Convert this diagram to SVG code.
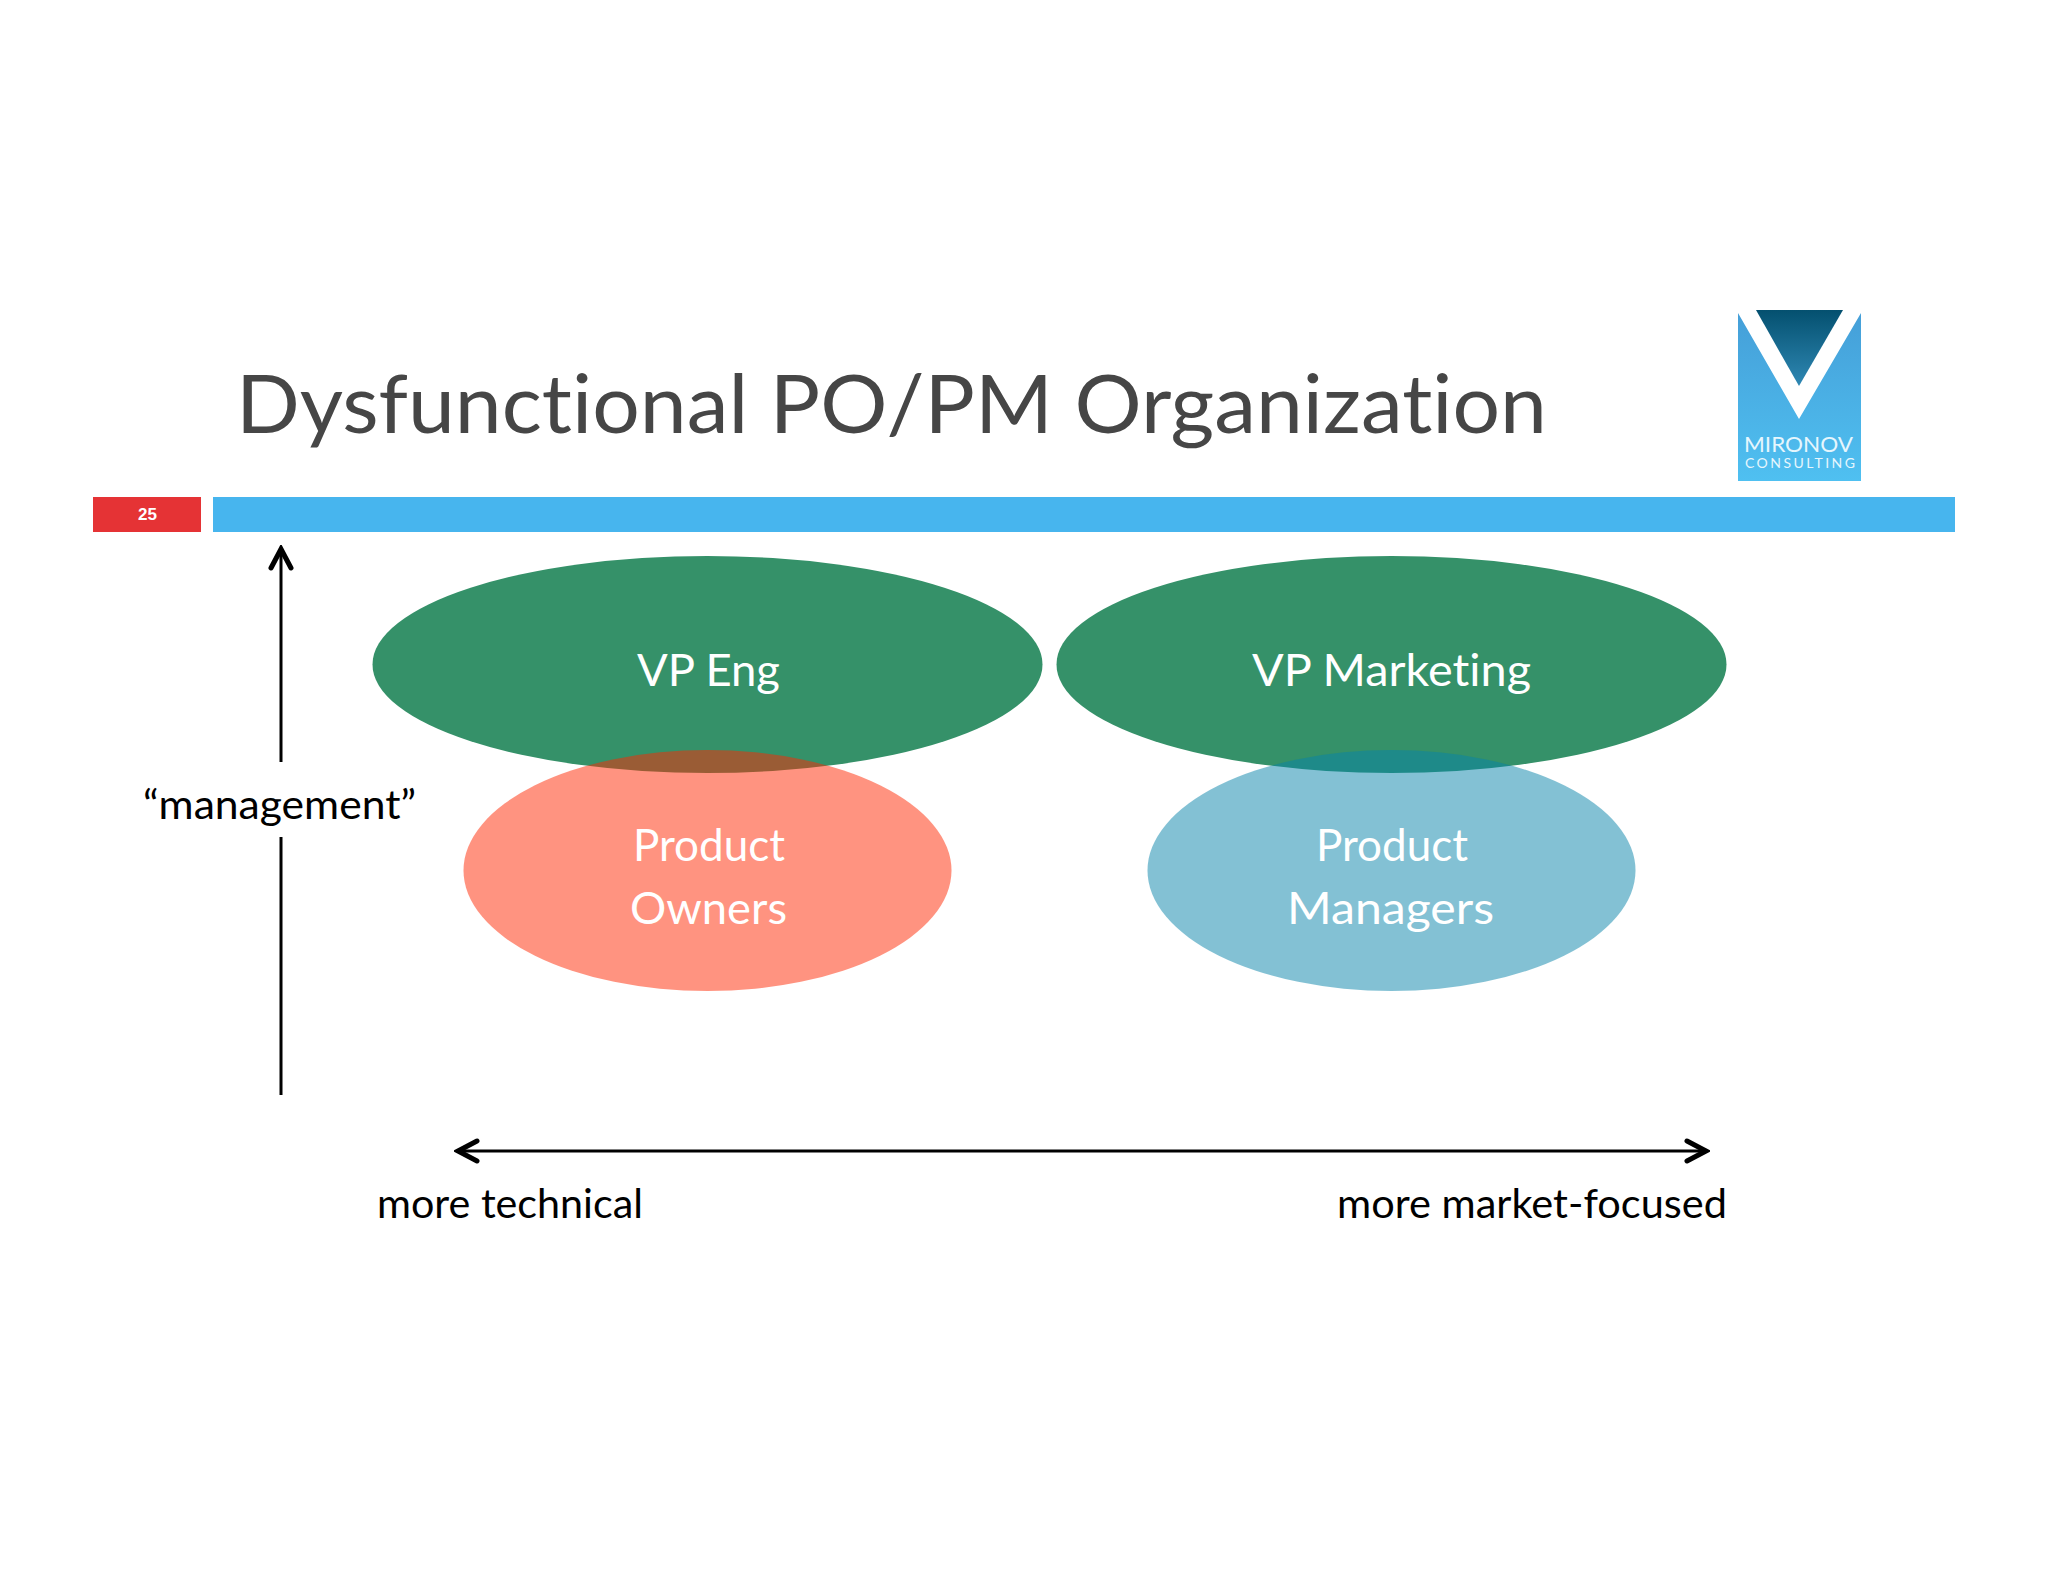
<svg xmlns="http://www.w3.org/2000/svg" width="2048" height="1582" viewBox="0 0 2048 1582">
<style>
.t{font-family:"Lato","Open Sans",sans-serif;font-variant-ligatures:none}
.w{fill:#fff;font-size:44px}
.k{fill:#000;font-size:40px}
.ln{stroke:#000;stroke-width:3;fill:none}
</style>
<defs>
<linearGradient id="lg" x1="0" y1="0" x2="0" y2="1"><stop offset="0" stop-color="#459fd8"/><stop offset="1" stop-color="#4fc0f1"/></linearGradient>
<linearGradient id="dg" x1="0" y1="0" x2="0" y2="1"><stop offset="0" stop-color="#04506f"/><stop offset="1" stop-color="#2f88b4"/></linearGradient>
<marker id="ah" markerUnits="userSpaceOnUse" viewBox="-26 -14 30 28" refX="0" refY="0" markerWidth="30" markerHeight="28" orient="auto-start-reverse"><path d="M-19 -10L0 0L-19 10" fill="none" stroke="#000" stroke-width="5" stroke-linecap="round" stroke-linejoin="miter"/></marker>
</defs>
<rect width="2048" height="1582" fill="#fff"/>
<text id="title" class="t" x="236" y="433" font-size="82" fill="#464646" textLength="1311" lengthAdjust="spacingAndGlyphs">Dysfunctional PO/PM Organization</text>
<g id="page-number"><rect x="93" y="497" width="108" height="35" fill="#e53335"/><text x="147.500" y="520" text-anchor="middle" font-family="Liberation Sans,sans-serif" font-weight="700" font-size="17" fill="#fff">25</text></g>
<rect id="bar" x="213" y="497" width="1742" height="35" fill="#47b5ee"/>
<g id="logo">
<rect x="1738" y="313" width="123" height="168" fill="url(#lg)"/>
<path d="M1735 310H1864V313L1861 313L1799 419L1738 313L1735 313Z" fill="#fff"/>
<path d="M1756 310H1843L1799 386Z" fill="url(#dg)"/>
<text x="1744" y="452" font-family="Lato,sans-serif" font-size="21" fill="#e6f6fd" textLength="109" lengthAdjust="spacingAndGlyphs">MIRONOV</text>
<text x="1745" y="468" font-family="Lato,sans-serif" font-size="14" fill="#e6f6fd" textLength="110" lengthAdjust="spacing">CONSULTING</text>
</g>
<g id="vp-eng"><ellipse cx="707.500" cy="664.500" rx="335" ry="108.500" fill="#359169"/><text class="t w" x="637" y="686" textLength="143" lengthAdjust="spacingAndGlyphs">VP Eng</text></g>
<g id="vp-marketing"><ellipse cx="1391.500" cy="664.500" rx="335" ry="108.500" fill="#359169"/><text class="t w" x="1252" y="686" textLength="279" lengthAdjust="spacingAndGlyphs">VP Marketing</text></g>
<g id="product-owners"><ellipse cx="707.500" cy="870.500" rx="244" ry="120.500" fill="#ff2701" fill-opacity=".5"/><text class="t w" x="633" y="861" textLength="152" lengthAdjust="spacingAndGlyphs">Product</text><text class="t w" x="630" y="924" textLength="157" lengthAdjust="spacingAndGlyphs">Owners</text></g>
<g id="product-managers"><ellipse cx="1391.500" cy="870.500" rx="244" ry="120.500" fill="#0783a9" fill-opacity=".5"/><text class="t w" x="1316" y="861" textLength="152" lengthAdjust="spacingAndGlyphs">Product</text><text class="t w" x="1287" y="924" textLength="207" lengthAdjust="spacingAndGlyphs">Managers</text></g>
<g id="connectors">
<line class="ln" x1="281" y1="762" x2="281" y2="549" marker-end="url(#ah)"/>
<line class="ln" x1="281" y1="837" x2="281" y2="1095"/>
<line class="ln" x1="458" y1="1151" x2="1706" y2="1151" marker-start="url(#ah)" marker-end="url(#ah)"/>
</g>
<text class="t k" x="143" y="819" textLength="273" lengthAdjust="spacingAndGlyphs">“management”</text>
<text class="t k" x="377" y="1218" textLength="266" lengthAdjust="spacingAndGlyphs">more technical</text>
<text class="t k" x="1337" y="1218" textLength="390" lengthAdjust="spacingAndGlyphs">more market-focused</text>
</svg>
